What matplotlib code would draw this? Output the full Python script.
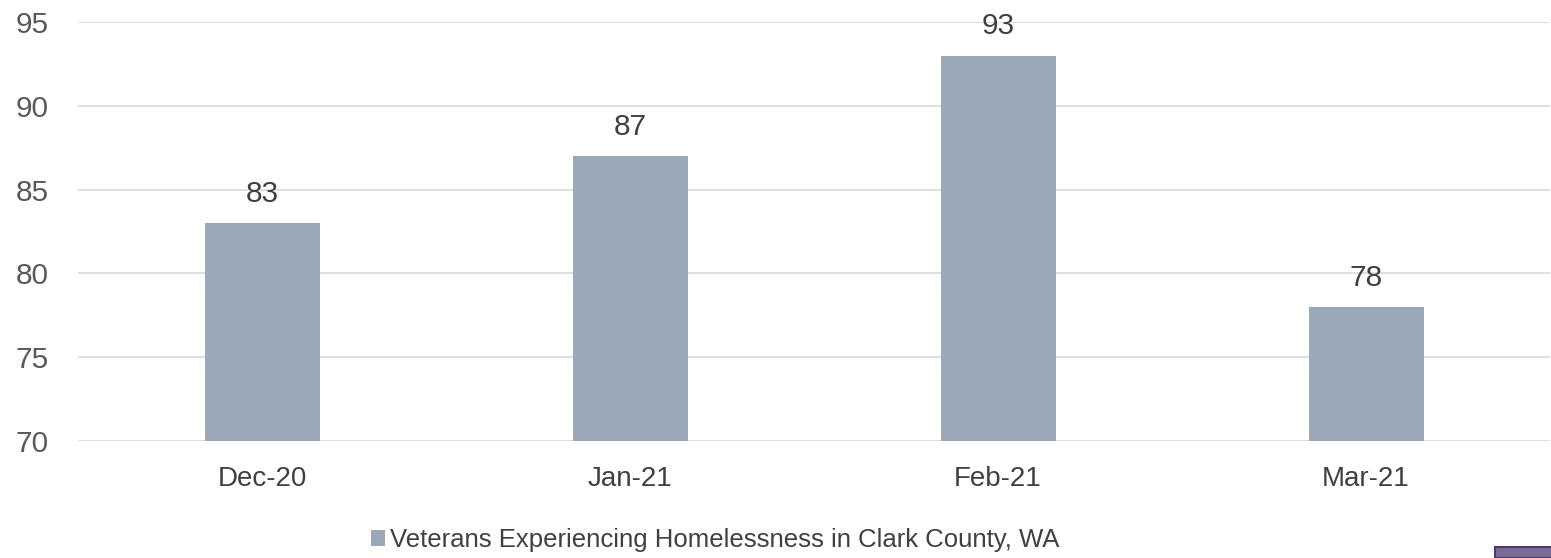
import matplotlib.pyplot as plt
from matplotlib.patches import Rectangle

months = ['Dec-20', 'Jan-21', 'Feb-21', 'Mar-21']
veterans = [83, 87, 93, 78]
series_name = 'Veterans Experiencing Homelessness in Clark County, WA'
yticks = [70, 75, 80, 85, 90, 95]

plt.rcParams['font.family'] = ['Liberation Sans', 'DejaVu Sans']
txt = '#595959'
bar_color = '#9BA8B7'

fig = plt.figure(figsize=(15.51, 5.58), dpi=100)
ax = fig.add_axes([78/1551, 1-441/558, 1472/1551, 419/558])

x = range(len(months))
bars = ax.bar(x, [v - 70 for v in veterans], bottom=70, width=0.3125,
              color=bar_color, label=series_name, zorder=3)
for i, v in enumerate(veterans):
    ax.annotate(str(v), (i, v), xytext=(0, 11), textcoords='offset points',
                ha='center', va='bottom', fontsize=21.5, color='#404040')

ax.set_xlim(-0.5, len(months) - 0.5)
ax.set_ylim(70, 95)
ax.set_yticks(yticks)
ax.set_xticks(list(x))
ax.set_xticklabels(months)
ax.tick_params(axis='y', length=0, pad=21, labelsize=21.5, labelcolor=txt)
ax.tick_params(axis='x', length=0, pad=18, labelsize=20, labelcolor='#404040')
ax.grid(axis='y', color='#D9D9D9', linewidth=1.2, zorder=0)
for s in ax.spines.values():
    s.set_visible(False)

fig.legend(handles=[bars], labels=[series_name], loc='center left',
           bbox_to_anchor=(348/1551, 1-540/558), frameon=False, fontsize=18.5,
           handlelength=0.55, handleheight=0.55, handletextpad=0.2,
           labelcolor='#404040')

# small purple box in the bottom-right corner
fig.patches.append(Rectangle((1495/1551, 0), 60/1551, 11/558,
                             transform=fig.transFigure, facecolor='#7A6A96',
                             edgecolor='#4B3B6B', linewidth=1.5))

fig.savefig('out.png', dpi=100)
